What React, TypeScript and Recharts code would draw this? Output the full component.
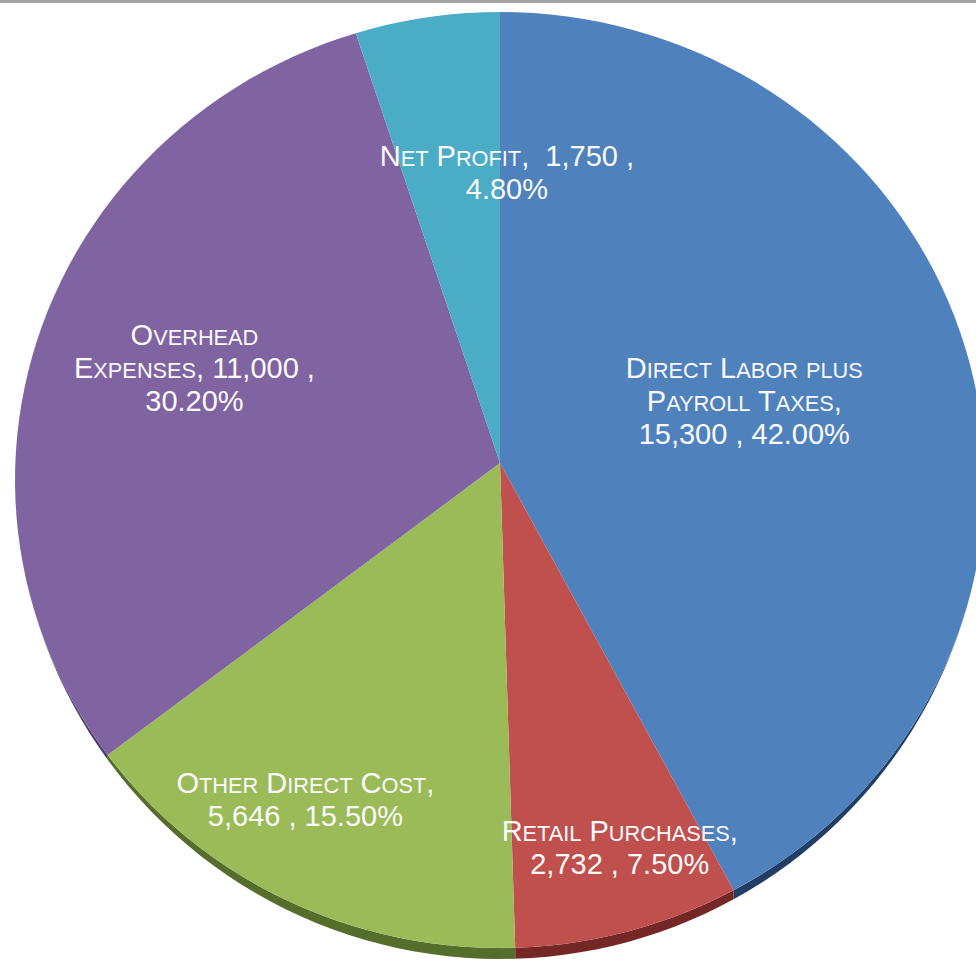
/* eslint-disable @typescript-eslint/no-explicit-any */
import { Cell, Pie, PieChart } from "recharts";

const categories = [
  "Direct Labor plus Payroll Taxes",
  "Retail Purchases",
  "Other Direct Cost",
  "Overhead Expenses",
  "Net Profit",
];
const amounts = [15300, 2732, 5646, 11000, 1750];

// label text as it is wrapped in the picture
const labelLines = [
  ["Direct Labor plus", "Payroll Taxes,", "15,300 , 42.00%"],
  ["Retail Purchases,", "2,732 , 7.50%"],
  ["Other Direct Cost,", "5,646 , 15.50%"],
  ["Overhead", "Expenses, 11,000 ,", "30.20%"],
  ["Net Profit,  1,750 ,", "4.80%"],
];

const data = categories.map((name, i) => ({ name, value: amounts[i] }));

const COLORS = ["#4F81BD", "#C0504D", "#9BBB59", "#8064A2", "#4BACC6"];
const WALLS = ["#213f66", "#742725", "#566e2c", "#4f3b6b", "#2a6f82"];

// label placement (fraction of radius, angle nudge in degrees)
const LABEL_RADIUS = [0.52, 0.83, 0.8, 0.66, 0.6];
const LABEL_TURN = [0, 2, -4, 1, -10];

const RADIAN = Math.PI / 180;
const TILT = 0.965; // vertical squash of the top face
const DROP = 17; // ellipse centre sits below the apex
const DEPTH = 11; // thickness of the 3d rim at the bottom
const FONT = 29;
const SMALL = 0.75; // small-caps size

const renderSlice = (props: any) => {
  const { cx, cy, outerRadius, startAngle, endAngle, fill } = props;
  const rx = outerRadius;
  const ry = outerRadius * TILT;
  const ey = cy + DROP;
  const rim = (a: number) => {
    const s = -Math.sin(a * RADIAN);
    return (DEPTH * Math.max(0, s - 0.3)) / 0.7;
  };
  const arc = (a0: number, a1: number, wall: boolean) => {
    const n = Math.max(2, Math.ceil(Math.abs(a1 - a0) / 2));
    const out: string[] = [];
    for (let i = 0; i <= n; i++) {
      const d = a0 + ((a1 - a0) * i) / n;
      const a = d * RADIAN;
      const dy = wall ? rim(d) : 0;
      out.push(`${cx + rx * Math.cos(a)},${ey + dy - ry * Math.sin(a)}`);
    }
    return out;
  };
  const face = `M${cx},${cy}L${arc(startAngle, endAngle, false).join("L")}Z`;
  const lo = Math.max(Math.min(startAngle, endAngle), -180);
  const hi = Math.min(Math.max(startAngle, endAngle), 0);
  const idx = COLORS.indexOf(fill);
  return (
    <g>
      {hi > lo && (
        <path
          d={`M${arc(lo, hi, false).join("L")}L${arc(hi, lo, true).join("L")}Z`}
          fill={WALLS[idx] ?? "#333"}
        />
      )}
      <path d={face} fill={fill} />
    </g>
  );
};

// fake small caps: lowercase letters become smaller capitals
const smallCaps = (t: string) => {
  const runs: { s: string; small: boolean }[] = [];
  for (const ch of t) {
    const small = ch !== ch.toUpperCase();
    const last = runs[runs.length - 1];
    if (last && last.small === small) last.s += ch;
    else runs.push({ s: ch, small });
  }
  return runs.map((r, i) => (
    <tspan key={i} fontSize={r.small ? FONT * SMALL : FONT}>
      {r.small ? r.s.toUpperCase() : r.s}
    </tspan>
  ));
};

const renderLabel = ({ cx, cy, midAngle, outerRadius, index }: any) => {
  const ang = (midAngle + LABEL_TURN[index]) * RADIAN;
  const r = outerRadius * LABEL_RADIUS[index];
  const x = cx + r * Math.cos(ang);
  const y = cy - r * Math.sin(ang);
  const lines = labelLines[index];
  const lh = 33;
  const y0 = y - ((lines.length - 1) * lh) / 2;
  return (
    <g>
      {lines.map((t, i) => (
        <text
          key={i}
          x={x}
          y={y0 + i * lh + FONT * 0.36}
          fill="#fafafa"
          textAnchor="middle"
          fontFamily="'Liberation Sans', Arial, sans-serif"
          fontSize={FONT}
          style={{ whiteSpace: "pre" }}
        >
          {smallCaps(t)}
        </text>
      ))}
    </g>
  );
};

export default function App() {
  return (
    <div
      style={{
        position: "absolute",
        left: 0,
        top: 0,
        width: 976,
        height: 962,
        overflow: "hidden",
        background: "#fff",
        borderTop: "3px solid #a3a3a3",
        boxSizing: "border-box",
      }}
    >
      <PieChart
        width={976}
        height={959}
        margin={{ top: 0, right: 0, bottom: 0, left: 0 }}
        style={{ marginTop: -3 }}
      >
        <Pie
          data={data}
          dataKey="value"
          nameKey="name"
          cx={500}
          cy={463}
          innerRadius={0}
          outerRadius={485}
          startAngle={90}
          endAngle={-270}
          stroke="none"
          isAnimationActive={false}
          labelLine={false}
          label={renderLabel}
          shape={renderSlice}
          activeShape={renderSlice}
          inactiveShape={renderSlice}
        >
          {data.map((_, idx) => (
            <Cell key={idx} fill={COLORS[idx]} />
          ))}
        </Pie>
      </PieChart>
    </div>
  );
}
